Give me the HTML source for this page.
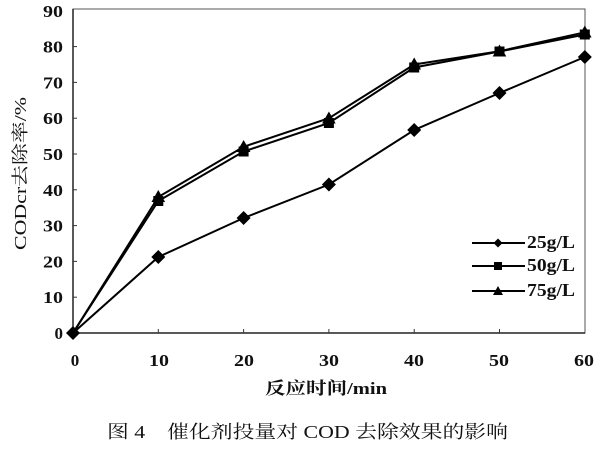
<!DOCTYPE html>
<html><head><meta charset="utf-8"><style>
html,body{margin:0;padding:0;background:#fff;}
svg{display:block;}
text{font-family:"Liberation Serif","Noto Serif CJK SC","Noto Sans CJK SC",serif;fill:#111;}
</style></head><body>
<svg width="600" height="450" viewBox="0 0 600 450" xmlns="http://www.w3.org/2000/svg">
<rect width="600" height="450" fill="#fff"/>
<!-- frame -->
<rect x="73" y="9" width="512" height="324" fill="none" stroke="#555" stroke-width="1"/>
<line x1="73" y1="9" x2="73" y2="333" stroke="#222" stroke-width="1.5"/>
<line x1="73" y1="333" x2="585" y2="333" stroke="#222" stroke-width="1.5"/>
<!-- ticks -->
<g stroke="#333" stroke-width="1">
<line x1="73" y1="297.2" x2="77" y2="297.2"/><line x1="73" y1="261.4" x2="77" y2="261.4"/>
<line x1="73" y1="225.6" x2="77" y2="225.6"/><line x1="73" y1="189.8" x2="77" y2="189.8"/>
<line x1="73" y1="154" x2="77" y2="154"/><line x1="73" y1="118.2" x2="77" y2="118.2"/>
<line x1="73" y1="82.4" x2="77" y2="82.4"/><line x1="73" y1="46.6" x2="77" y2="46.6"/>
<line x1="158.3" y1="333" x2="158.3" y2="329"/><line x1="243.6" y1="333" x2="243.6" y2="329"/>
<line x1="328.9" y1="333" x2="328.9" y2="329"/><line x1="414.2" y1="333" x2="414.2" y2="329"/>
<line x1="499.5" y1="333" x2="499.5" y2="329"/>
</g>
<!-- y tick labels -->
<g font-size="17" font-weight="bold" text-anchor="end">
<text x="63" y="17" textLength="20" lengthAdjust="spacingAndGlyphs">90</text>
<text x="63" y="52.6" textLength="20" lengthAdjust="spacingAndGlyphs">80</text>
<text x="63" y="88.4" textLength="20" lengthAdjust="spacingAndGlyphs">70</text>
<text x="63" y="124.2" textLength="20" lengthAdjust="spacingAndGlyphs">60</text>
<text x="63" y="160" textLength="20" lengthAdjust="spacingAndGlyphs">50</text>
<text x="63" y="195.8" textLength="20" lengthAdjust="spacingAndGlyphs">40</text>
<text x="63" y="231.6" textLength="20" lengthAdjust="spacingAndGlyphs">30</text>
<text x="63" y="267.4" textLength="20" lengthAdjust="spacingAndGlyphs">20</text>
<text x="63" y="303.2" textLength="20" lengthAdjust="spacingAndGlyphs">10</text>
<text x="63" y="339" >0</text>
</g>
<!-- x tick labels -->
<g font-size="17" font-weight="bold" text-anchor="middle">
<text x="75" y="366">0</text>
<text x="159" y="366" textLength="20" lengthAdjust="spacingAndGlyphs">10</text>
<text x="244" y="366" textLength="20" lengthAdjust="spacingAndGlyphs">20</text>
<text x="329" y="366" textLength="20" lengthAdjust="spacingAndGlyphs">30</text>
<text x="414" y="366" textLength="20" lengthAdjust="spacingAndGlyphs">40</text>
<text x="499" y="366" textLength="20" lengthAdjust="spacingAndGlyphs">50</text>
<text x="584" y="366" textLength="20" lengthAdjust="spacingAndGlyphs">60</text>
</g>
<!-- axis titles -->
<text x="265" y="394" font-size="17" font-weight="bold" textLength="122" lengthAdjust="spacingAndGlyphs">反应时间/min</text>
<text transform="translate(26,250) rotate(-90)" x="0" y="0" font-size="17" textLength="153" lengthAdjust="spacingAndGlyphs">CODcr去除率/%</text>
<!-- caption -->
<text x="107" y="438" font-size="18" textLength="401" lengthAdjust="spacingAndGlyphs">图 4　催化剂投量对 COD 去除效果的影响</text>

<!-- series 75 g/L -->
<polyline fill="none" stroke="#000" stroke-width="2" points="73,333 158.3,197 243.6,146.8 328.9,118.2 414.2,64.5 499.5,51.2 584.8,32.3"/>
<!-- series 50 g/L -->
<polyline fill="none" stroke="#000" stroke-width="2" points="73,333 158.3,201 243.6,151.5 328.9,123 414.2,67.5 499.5,51.5 584.8,34.5"/>
<!-- series 25 g/L -->
<polyline fill="none" stroke="#000" stroke-width="2" points="73,333 158.3,257 243.6,218 328.9,184.5 414.2,130 499.5,93 584.8,57"/>

<!-- markers -->
<g fill="#000">
<!-- triangles 75 -->
<polygon points="158.3,190 151.5,202 165.1,202"/>
<polygon points="243.6,140 236.8,152 250.4,152"/>
<polygon points="328.9,111.5 322.1,123.5 335.7,123.5"/>
<polygon points="414.2,57.5 407.4,69.5 421,69.5"/>
<polygon points="499.5,44.5 492.7,56.5 506.3,56.5"/>
<polygon points="584.8,25.5 578,37.5 591.6,37.5"/>
<!-- squares 50 -->
<rect x="153.3" y="196" width="10" height="10"/>
<rect x="238.6" y="146.5" width="10" height="10"/>
<rect x="323.9" y="118" width="10" height="10"/>
<rect x="409.2" y="62.5" width="10" height="10"/>
<rect x="494.5" y="46.5" width="10" height="10"/>
<rect x="579.8" y="29.5" width="10" height="10"/>
<!-- diamonds 25 -->
<polygon points="73,326 80,333 73,340 66,333"/>
<polygon points="158.3,250 165.3,257 158.3,264 151.3,257"/>
<polygon points="243.6,211 250.6,218 243.6,225 236.6,218"/>
<polygon points="328.9,177.5 335.9,184.5 328.9,191.5 321.9,184.5"/>
<polygon points="414.2,123 421.2,130 414.2,137 407.2,130"/>
<polygon points="499.5,86 506.5,93 499.5,100 492.5,93"/>
<polygon points="584.8,50 591.8,57 584.8,64 577.8,57"/>
</g>

<!-- legend -->
<g stroke="#000" stroke-width="2">
<line x1="472" y1="243" x2="525" y2="243"/>
<line x1="472" y1="266" x2="525" y2="266"/>
<line x1="472" y1="291" x2="525" y2="291"/>
</g>
<g fill="#000">
<polygon points="498,238.5 502.5,243 498,247.5 493.5,243"/>
<rect x="494" y="262" width="8" height="8"/>
<polygon points="498,286 493,295 503,295"/>
</g>
<g font-size="18" font-weight="bold">
<text x="527" y="248" textLength="48" lengthAdjust="spacingAndGlyphs">25g/L</text>
<text x="527" y="271" textLength="48" lengthAdjust="spacingAndGlyphs">50g/L</text>
<text x="527" y="296" textLength="48" lengthAdjust="spacingAndGlyphs">75g/L</text>
</g>
</svg>
</body></html>
